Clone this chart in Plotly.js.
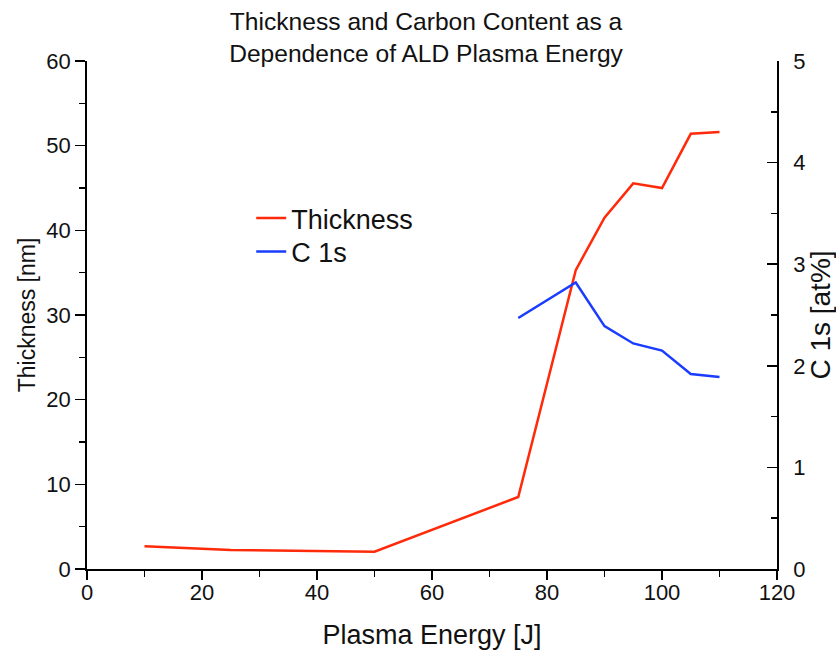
<!DOCTYPE html>
<html>
<head>
<meta charset="utf-8">
<script src="https://cdn.plot.ly/plotly-3.0.1.min.js"></script>
<style>
  html, body { margin: 0; padding: 0; background: #fff; }
  #chart { width: 836px; height: 655px; }
</style>
</head>
<body>
<div id="chart"></div>
<script>
// Plasma energy sweep [J]
const energyThickness = [10, 25, 50, 75, 85, 90, 95, 100, 105, 110];
const thicknessNm     = [2.7, 2.25, 2.05, 8.5, 35.3, 41.5, 45.55, 45.0, 51.4, 51.6];

const energyCarbon = [75, 85, 90, 95, 100, 105, 110];
const carbonAtPct  = [2.47, 2.82, 2.39, 2.22, 2.15, 1.92, 1.89];

const xTitle  = 'Plasma Energy [J]';
const yTitle  = 'Thickness [nm]';
const y2Title = 'C 1s [at%]';
const chartTitle = 'Thickness and Carbon Content as a<br>Dependence of ALD Plasma Energy';

const FONT = 'Arial, "Liberation Sans", sans-serif';
const INK = '#111';

const traces = [
  {
    x: energyThickness, y: thicknessNm, name: 'Thickness',
    type: 'scatter', mode: 'lines',
    line: { color: '#ff2a0a', width: 2.5 },
    yaxis: 'y', legend: 'legend'
  },
  {
    x: energyCarbon, y: carbonAtPct, name: 'C 1s',
    type: 'scatter', mode: 'lines',
    line: { color: '#1a3cff', width: 2.5 },
    yaxis: 'y2', legend: 'legend2'
  }
];

const axisCommon = {
  showgrid: false, zeroline: false,
  showline: true, linecolor: '#000', linewidth: 1.8,
  tickcolor: '#000', tickwidth: 1.6, ticklen: 10,
  tickfont: { family: FONT, size: 22, color: INK },
  fixedrange: true
};

const legendCommon = {
  xref: 'paper', yref: 'paper', xanchor: 'left', yanchor: 'middle',
  bgcolor: 'rgba(0,0,0,0)', borderwidth: 0,
  font: { family: FONT, size: 27, color: INK }
};

const layout = {
  width: 836, height: 655,
  margin: { l: 87, r: 59, t: 61, b: 86 },
  paper_bgcolor: '#fff', plot_bgcolor: '#fff',
  font: { family: FONT, color: INK },
  title: {
    text: chartTitle,
    font: { family: FONT, size: 24.6, color: INK },
    xref: 'container', x: 0.5096, xanchor: 'center',
    yref: 'container', y: 0.954, yanchor: 'top'
  },
  xaxis: Object.assign({}, axisCommon, {
    range: [0, 120], dtick: 20, tick0: 0, ticks: 'outside', ticklen: 9,
    ticklabelstandoff: -6,
    minor: { dtick: 10, ticks: 'outside', ticklen: 6, tickwidth: 1.5, tickcolor: '#000', showgrid: false },
    title: { text: xTitle, font: { family: FONT, size: 27, color: INK }, standoff: 21 }
  }),
  yaxis: Object.assign({}, axisCommon, {
    range: [0, 60], dtick: 10, tick0: 0, ticks: 'outside',
    minor: { dtick: 5, ticks: 'outside', ticklen: 6, tickwidth: 1.5, tickcolor: '#000', showgrid: false },
    title: { text: yTitle, font: { family: FONT, size: 23, color: INK }, standoff: 4 }
  }),
  yaxis2: Object.assign({}, axisCommon, {
    overlaying: 'y', side: 'right', anchor: 'x',
    range: [0, 5], dtick: 1, tick0: 0, ticks: 'inside', ticklabelstandoff: 10,
    minor: { dtick: 0.5, ticks: 'inside', ticklen: 6, tickwidth: 1.5, tickcolor: '#000', showgrid: false },
    title: { text: y2Title, font: { family: FONT, size: 28, color: INK }, standoff: 9 }
  }),
  showlegend: true,
  legend: Object.assign({}, legendCommon, { x: 0.238, y: 0.69 }),
  legend2: Object.assign({}, legendCommon, { x: 0.238, y: 0.624 })
};

Plotly.newPlot('chart', traces, layout, { staticPlot: true, displayModeBar: false });
</script>
</body>
</html>
